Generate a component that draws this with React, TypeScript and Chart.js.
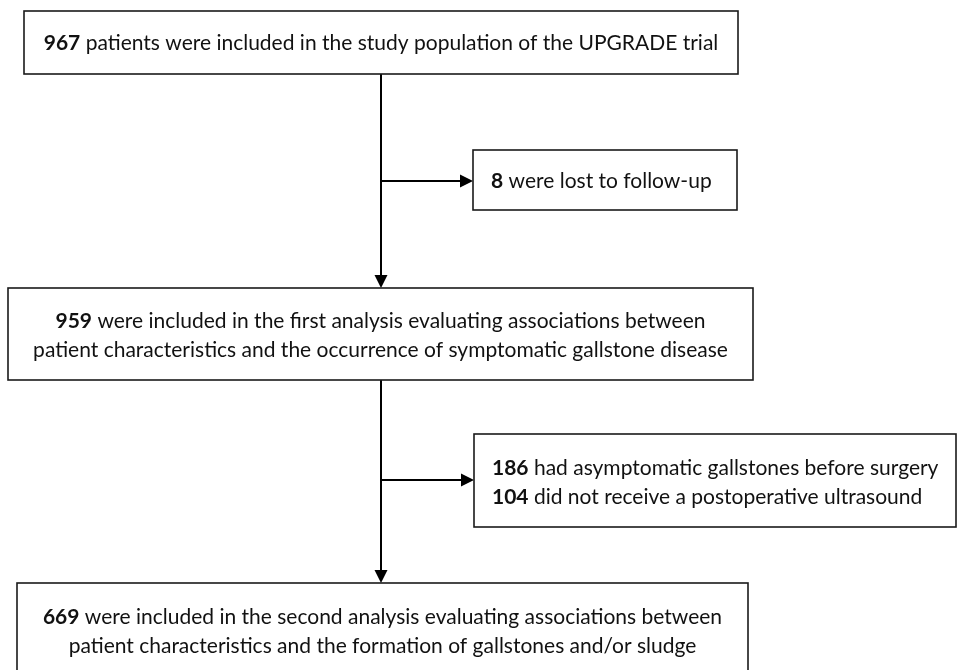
import { useEffect, useRef } from "react";
import { Chart, registerables } from "chart.js";

Chart.register(...registerables);

// ---- Flowchart content (data) ----
const box1Lines: [string, string][] = [["967", " patients were included in the study population of the UPGRADE trial"]];
const box2Lines: [string, string][] = [["8", " were lost to follow-up"]];
const box3Lines: [string, string][] = [
  ["959", " were included in the first analysis evaluating associations between"],
  ["", "patient characteristics and the occurrence of symptomatic gallstone disease"],
];
const box4Lines: [string, string][] = [
  ["186", " had asymptomatic gallstones before surgery"],
  ["104", " did not receive a postoperative ultrasound"],
];
const box5Lines: [string, string][] = [
  ["669", " were included in the second analysis evaluating associations between"],
  ["", "patient characteristics and the formation of gallstones and/or sludge"],
];

// ---- Layout (in scale units, 0..957 x 0..670) ----
type Box = { x0: number; x1: number; y0: number; y1: number; lines: [string, string][]; align: "center" | "left"; lineY: number[] };
const layout: Box[] = [
  { x0: 24, x1: 738, y0: 11, y1: 74, lines: box1Lines, align: "center", lineY: [43] },
  { x0: 473, x1: 737, y0: 150, y1: 210, lines: box2Lines, align: "left", lineY: [181] },
  { x0: 8, x1: 753, y0: 288, y1: 380, lines: box3Lines, align: "center", lineY: [321, 350] },
  { x0: 474, x1: 956, y0: 434, y1: 527, lines: box4Lines, align: "left", lineY: [468, 497] },
  { x0: 17, x1: 748, y0: 583, y1: 675, lines: box5Lines, align: "center", lineY: [617, 646] },
];
const spineX = 381;
// connectors: [x0,y0,x1,y1,arrow]
const connectors: [number, number, number, number, boolean][] = [
  [spineX, 74, spineX, 288, true],
  [spineX, 181, 473, 181, true],
  [spineX, 380, spineX, 583, true],
  [spineX, 480, 474, 480, true],
];

const FONT_FAMILY = "Lato, 'Open Sans', sans-serif";
const FONT_SIZE = 21;

const flowPlugin = {
  id: "flow",
  afterDraw(chart: any) {
    const { ctx, scales } = chart;
    const X = (v: number) => scales.x.getPixelForValue(v);
    const Y = (v: number) => scales.y.getPixelForValue(v);
    ctx.save();
    // connectors
    ctx.strokeStyle = "#000";
    ctx.fillStyle = "#000";
    ctx.lineWidth = 2;
    for (const [a, b, c, d, arrow] of connectors) {
      const x0 = X(a), y0 = Y(b), x1 = X(c), y1 = Y(d);
      const len = Math.hypot(x1 - x0, y1 - y0);
      const ux = (x1 - x0) / len, uy = (y1 - y0) / len;
      const head = 13, hw = 6.5;
      ctx.beginPath();
      ctx.moveTo(x0, y0);
      ctx.lineTo(arrow ? x1 - ux * head : x1, arrow ? y1 - uy * head : y1);
      ctx.stroke();
      if (arrow) {
        ctx.beginPath();
        ctx.moveTo(x1, y1);
        ctx.lineTo(x1 - ux * head - uy * hw, y1 - uy * head + ux * hw);
        ctx.lineTo(x1 - ux * head + uy * hw, y1 - uy * head - ux * hw);
        ctx.closePath();
        ctx.fill();
      }
    }
    // boxes
    for (const b of layout) {
      const x0 = X(b.x0), x1 = X(b.x1), y0 = Y(b.y0), y1 = Y(b.y1);
      ctx.fillStyle = "#fff";
      ctx.fillRect(x0, y0, x1 - x0, y1 - y0);
      ctx.strokeStyle = "#1a1a1a";
      ctx.lineWidth = 1.6;
      ctx.strokeRect(x0, y0, x1 - x0, y1 - y0);
      ctx.fillStyle = "#111";
      ctx.textBaseline = "middle";
      ctx.textAlign = "left";
      b.lines.forEach(([bold, rest], i) => {
        const boldFont = `bold ${FONT_SIZE}px ${FONT_FAMILY}`;
        const regFont = `${FONT_SIZE}px ${FONT_FAMILY}`;
        ctx.font = boldFont;
        const bw = bold ? ctx.measureText(bold).width : 0;
        ctx.font = regFont;
        const rw = ctx.measureText(rest).width;
        const total = bw + rw;
        let sx = b.align === "center" ? (x0 + x1) / 2 - total / 2 : x0 + 18;
        const y = Y(b.lineY[i]);
        if (bold) {
          ctx.font = boldFont;
          ctx.fillText(bold, sx, y);
          sx += bw;
        }
        ctx.font = regFont;
        ctx.fillText(rest, sx, y);
      });
    }
    ctx.restore();
  },
};

export default function App() {
  const ref = useRef<HTMLCanvasElement | null>(null);
  useEffect(() => {
    if (!ref.current) return;
    const chart = new Chart(ref.current, {
      type: "scatter",
      data: { datasets: [{ data: [], pointRadius: 0 }] },
      options: {
        animation: false,
        responsive: false,
        maintainAspectRatio: false,
        layout: { padding: 0 },
        plugins: { legend: { display: false }, tooltip: { enabled: false } },
        scales: {
          x: { type: "linear", min: 0, max: 957, display: false },
          y: { type: "linear", min: 0, max: 670, reverse: true, display: false },
        },
      },
      plugins: [flowPlugin],
    });
    return () => chart.destroy();
  }, []);
  return (
    <div style={{ position: "fixed", left: 0, top: 0, width: 957, height: 670, background: "#fff" }}>
      <canvas ref={ref} width={957} height={670} style={{ width: 957, height: 670, display: "block" }} />
    </div>
  );
}
